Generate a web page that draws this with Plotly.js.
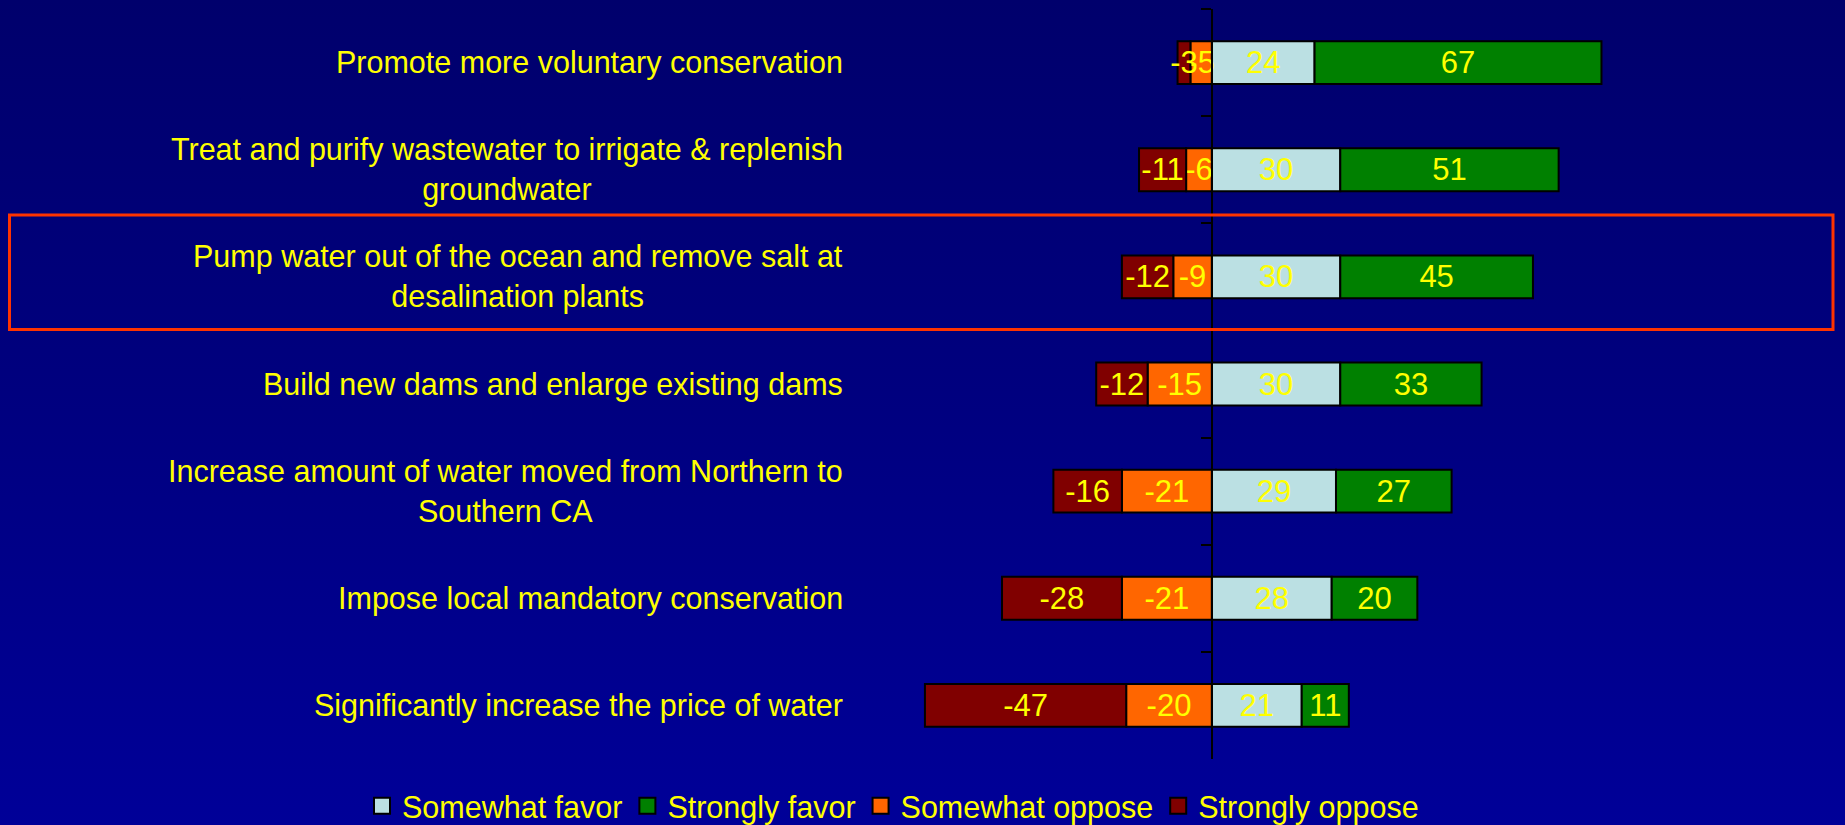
<!DOCTYPE html>
<html>
<head>
<meta charset="utf-8">
<script src="https://cdn.plot.ly/plotly-3.0.1.min.js"></script>
<style>
  html, body { margin: 0; padding: 0; width: 1845px; height: 825px; overflow: hidden;
    background: linear-gradient(to bottom, #00006c 0%, #000080 50%, #000098 100%); }
  #chart { width: 1845px; height: 825px; }
</style>
</head>
<body>
<div id="chart"></div>
<script>
// Categories, top to bottom
const categories = [
  "Promote more voluntary conservation",
  "Treat and purify wastewater to irrigate & replenish<br>groundwater",
  "Pump water out of the ocean and remove salt at<br>desalination plants",
  "Build new dams and enlarge existing dams",
  "Increase amount of water moved from Northern to<br>Southern CA",
  "Impose local mandatory conservation",
  "Significantly increase the price of water"
];
const somewhatFavor = [24, 30, 30, 30, 29, 28, 21];
const stronglyFavor = [67, 51, 45, 33, 27, 20, 11];
const somewhatOppose = [-5, -6, -9, -15, -21, -21, -20];
const stronglyOppose = [-3, -11, -12, -12, -16, -28, -47];
const seriesNames = ["Somewhat favor", "Strongly favor", "Somewhat oppose", "Strongly oppose"];
const seriesColors = ["#bbe0e3", "#008000", "#ff6600", "#800000"];

const FONT = "Liberation Sans, Arial, sans-serif";
const seriesValues = [somewhatFavor, stronglyFavor, somewhatOppose, stronglyOppose];

const barTraces = seriesValues.map((vals, i) => ({
  type: "bar",
  orientation: "h",
  name: seriesNames[i],
  y: categories,
  x: vals,
  showlegend: false,
  marker: { color: seriesColors[i], line: { color: "#000000", width: 2 } },
  text: vals.map(v => String(v)),
  texttemplate: "%{text}",
  textposition: "inside",
  insidetextanchor: "middle",
  textangle: 0,
  constraintext: "none",
  textfont: { family: FONT, size: 31, color: "#ffff00" },
  hoverinfo: "skip"
}));

// legend-only entries with larger square swatches
const legendTraces = seriesNames.map((n, i) => ({
  type: "scatter",
  mode: "markers",
  name: n,
  x: [null], y: [null],
  marker: { symbol: "square", size: 18, color: seriesColors[i], line: { color: "#000000", width: 2 } },
  hoverinfo: "skip"
}));

const L = 850, R = 1640, T = 9, B = 759;
const W = R - L, H = B - T;
const xRange = [-84.5, 100];
const zeroPos = (0 - xRange[0]) / (xRange[1] - xRange[0]);

const annotations = categories.map(c => ({
  xref: "paper", yref: "y",
  x: -5 / W, y: c,
  xanchor: "right", yanchor: "middle",
  align: "center",
  text: c,
  showarrow: false,
  font: { family: FONT, size: 30.5, color: "#ffff00" }
}));

const layout = {
  width: 1845, height: 825,
  paper_bgcolor: "rgba(0,0,0,0)",
  plot_bgcolor: "rgba(0,0,0,0)",
  margin: { l: L, r: 1845 - R, t: T, b: 825 - B, pad: 0, autoexpand: false },
  barmode: "relative",
  bargap: 0.6,
  showlegend: true,
  legend: {
    orientation: "h",
    xref: "paper", yref: "paper",
    x: (362 - L) / W, xanchor: "left",
    y: -(806 - B) / H, yanchor: "middle",
    font: { family: FONT, size: 30.5, color: "#ffff00" },
    bgcolor: "rgba(0,0,0,0)",
    traceorder: "normal",
    itemwidth: 30,
    tracegroupgap: 0
  },
  xaxis: {
    range: xRange, visible: false, fixedrange: true,
    showgrid: false, zeroline: false
  },
  yaxis: {
    type: "category",
    autorange: "reversed",
    anchor: "free",
    position: zeroPos,
    showline: true, linecolor: "#000000", linewidth: 2,
    ticks: "outside", tickson: "boundaries", ticklen: 10, tickwidth: 2, tickcolor: "#000000",
    showticklabels: false, showgrid: false, zeroline: false, fixedrange: true
  },
  annotations: annotations,
  shapes: [{
    type: "rect", xref: "paper", yref: "paper",
    x0: (9.5 - L) / W, x1: (1833 - L) / W,
    y0: 1 - (329.5 - T) / H, y1: 1 - (215 - T) / H,
    line: { color: "#ff3300", width: 3 },
    fillcolor: "rgba(0,0,0,0)"
  }],
  font: { family: FONT, color: "#ffff00" }
};

Plotly.newPlot("chart", barTraces.concat(legendTraces), layout, { displayModeBar: false, staticPlot: true });
</script>
</body>
</html>
